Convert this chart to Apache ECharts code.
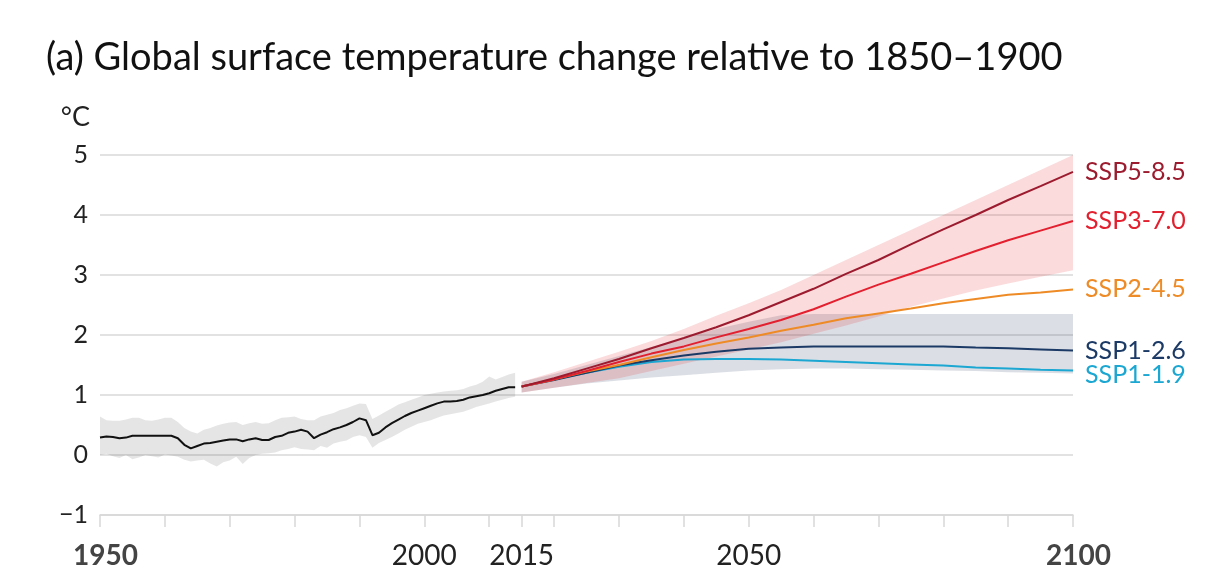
<!DOCTYPE html>
<html>
<head>
<meta charset="utf-8">
<script src="https://cdn.jsdelivr.net/npm/echarts@6/dist/echarts.min.js"></script>
<style>
  html, body { margin: 0; padding: 0; background: #fff; }
  #chart { width: 1216px; height: 581px; }
</style>
</head>
<body>
<div id="chart"></div>
<script>
// ---------- data ----------
const titleText = '(a) Global surface temperature change relative to 1850–1900';
const unitLabel = '°C';

const histYears = [];
for (let y = 1950; y <= 2014; y++) histYears.push(y);

const histMean = [0.29,0.31,0.30,0.28,0.29,0.32,0.32,0.32,0.32,0.32,
                  0.32,0.32,0.28,0.17,0.11,0.15,0.19,0.20,0.22,0.24,
                  0.26,0.26,0.23,0.26,0.28,0.25,0.25,0.30,0.32,0.37,
                  0.39,0.42,0.39,0.28,0.34,0.38,0.43,0.46,0.50,0.55,
                  0.61,0.58,0.33,0.37,0.46,0.53,0.59,0.65,0.70,0.74,
                  0.78,0.82,0.86,0.89,0.89,0.90,0.92,0.96,0.98,1.00,
                  1.03,1.07,1.10,1.13,1.13];
const histHigh = [0.64,0.58,0.57,0.57,0.59,0.62,0.62,0.58,0.57,0.59,
                  0.62,0.62,0.55,0.45,0.39,0.36,0.42,0.45,0.49,0.52,
                  0.54,0.55,0.50,0.53,0.55,0.52,0.53,0.58,0.62,0.63,
                  0.64,0.60,0.58,0.58,0.64,0.67,0.70,0.75,0.78,0.82,
                  0.86,0.85,0.60,0.66,0.72,0.78,0.84,0.88,0.92,0.96,
                  1.00,1.02,1.04,1.06,1.07,1.08,1.10,1.14,1.17,1.22,
                  1.31,1.26,1.30,1.34,1.37];
const histLow  = [0.00,0.02,-0.02,-0.05,0.00,-0.07,-0.04,0.00,-0.02,-0.04,
                  0.01,-0.01,-0.03,-0.08,-0.11,-0.09,-0.08,-0.14,-0.19,-0.12,
                  -0.09,-0.03,-0.15,-0.05,0.00,0.02,0.03,0.04,0.08,0.10,
                  0.13,0.10,0.09,0.08,0.15,0.12,0.19,0.22,0.24,0.30,
                  0.33,0.30,0.12,0.20,0.25,0.30,0.36,0.42,0.47,0.52,
                  0.55,0.58,0.62,0.66,0.68,0.70,0.72,0.76,0.80,0.83,
                  0.86,0.89,0.92,0.95,0.97];

const projYears = [2015,2020,2025,2030,2035,2040,2045,2050,2055,2060,2065,2070,2075,2080,2085,2090,2095,2100];
const ssp585 = [1.14,1.28,1.44,1.60,1.78,1.95,2.13,2.33,2.55,2.77,3.02,3.25,3.51,3.76,4.00,4.25,4.48,4.72];
const ssp370 = [1.14,1.26,1.40,1.55,1.69,1.81,1.96,2.10,2.25,2.43,2.64,2.84,3.02,3.21,3.40,3.58,3.74,3.90];
const ssp245 = [1.14,1.26,1.39,1.50,1.63,1.75,1.86,1.96,2.07,2.17,2.28,2.36,2.44,2.53,2.60,2.67,2.71,2.76];
const ssp126 = [1.14,1.25,1.37,1.49,1.58,1.66,1.72,1.77,1.79,1.81,1.81,1.81,1.81,1.81,1.79,1.78,1.76,1.74];
const ssp119 = [1.14,1.26,1.37,1.47,1.55,1.59,1.60,1.60,1.59,1.57,1.55,1.53,1.51,1.49,1.46,1.44,1.42,1.41];

const ssp370High = [1.22,1.38,1.55,1.72,1.90,2.10,2.32,2.53,2.75,3.00,3.25,3.50,3.75,4.00,4.25,4.50,4.75,5.00];
const ssp370Low  = [1.04,1.12,1.20,1.28,1.40,1.52,1.64,1.76,1.88,2.02,2.16,2.31,2.47,2.61,2.74,2.86,2.97,3.08];
const ssp126High = [1.22,1.35,1.50,1.65,1.80,1.95,2.10,2.22,2.33,2.35,2.35,2.35,2.35,2.35,2.35,2.35,2.35,2.35];
const ssp126Low  = [1.04,1.12,1.19,1.24,1.29,1.33,1.37,1.41,1.43,1.44,1.44,1.43,1.42,1.41,1.40,1.38,1.37,1.36];

const xTickYears  = [1950,1960,1970,1980,1990,2000,2010,2015,2020,2030,2040,2050,2060,2070,2080,2090,2100];
const xLabelYears = [1950,2000,2015,2050,2100];
const xBoldYears  = [1950,2100];
const yMin = -1, yMax = 5, yStep = 1;

const scenarioNames  = ['SSP1-1.9','SSP1-2.6','SSP2-4.5','SSP3-7.0','SSP5-8.5'];
const scenarioValues = [ssp119, ssp126, ssp245, ssp370, ssp585];
const scenarioColors = ['#1ba7d2','#1c3a66','#ee8b26','#e2202f','#9c1b2e'];

// ---------- helpers ----------
const FONT = 'Lato, "Noto Sans", sans-serif';
function pairs(xs, ys) { return xs.map((x, i) => [x, ys[i]]); }
function bandSeries(name, xs, lo, hi, fill) {
  return {
    type: 'custom',
    name: name,
    silent: true,
    z: 1,
    data: xs.map((x, i) => [x, lo[i], hi[i]]),
    encode: { x: 0, y: [1, 2] },
    renderItem: function (params, api) {
      if (params.dataIndex !== 0) return null;
      const pts = [];
      for (let i = 0; i < xs.length; i++) pts.push(api.coord([xs[i], hi[i]]));
      for (let i = xs.length - 1; i >= 0; i--) pts.push(api.coord([xs[i], lo[i]]));
      return { type: 'polygon', shape: { points: pts }, style: { fill: fill } };
    }
  };
}

const series = [];
series.push(bandSeries('hist band', histYears, histLow, histHigh, 'rgba(0,0,0,0.10)'));
series.push(bandSeries('SSP1-2.6 band', projYears, ssp126Low, ssp126High, 'rgba(29,51,84,0.16)'));
series.push(bandSeries('SSP3-7.0 band', projYears, ssp370Low, ssp370High, 'rgba(231,29,37,0.16)'));
series.push({
  type: 'line', name: 'historical', data: pairs(histYears, histMean),
  showSymbol: false, symbol: 'none', z: 3, silent: true,
  lineStyle: { color: '#111', width: 2 }
});
scenarioNames.forEach((nm, k) => {
  series.push({
    type: 'line', name: nm, data: pairs(projYears, scenarioValues[k]),
    symbol: 'none', z: 3, silent: true,
    lineStyle: { color: scenarioColors[k], width: 2 },
    endLabel: {
      show: true, formatter: nm, color: scenarioColors[k],
      fontSize: 25, fontFamily: FONT, distance: 12,
      offset: nm === 'SSP1-1.9' ? [0, 5] : [0, 0]
    }
  });
});

const chart = echarts.init(document.getElementById('chart'), null, { renderer: 'canvas' });
chart.setOption({
  animation: false,
  backgroundColor: '#fff',
  title: {
    text: titleText, left: 46, top: 39, padding: 0,
    textStyle: { fontSize: 38, fontWeight: 'normal', color: '#111', fontFamily: FONT }
  },
  grid: { left: 100, right: 143, top: 155, bottom: 66, containLabel: false },
  xAxis: {
    type: 'value', min: 1950, max: 2100,
    splitLine: { show: false },
    axisLine: { show: true, onZero: false, lineStyle: { color: '#d8d8d8', width: 1.5 } },
    axisTick: { show: true, customValues: xTickYears, length: 12, lineStyle: { color: '#d8d8d8', width: 1.5 } },
    axisLabel: {
      customValues: xLabelYears, margin: 27, fontSize: 28, fontFamily: FONT, color: '#222',
      formatter: function (v) { return xBoldYears.indexOf(v) >= 0 ? '{b|' + v + '}' : '{n|' + v + '}'; },
      rich: {
        b: { fontSize: 28, fontWeight: 'bold', color: '#444', fontFamily: FONT, padding: [0, 0, 0, 11] },
        n: { fontSize: 28, color: '#222', fontFamily: FONT }
      }
    }
  },
  yAxis: {
    type: 'value', min: yMin, max: yMax, interval: yStep,
    name: unitLabel, nameLocation: 'end', nameGap: 24,
    nameTextStyle: { fontSize: 27, color: '#222', fontFamily: FONT, align: 'right', padding: [0, 10, 0, 0] },
    axisLine: { show: false }, axisTick: { show: false },
    axisLabel: {
      fontSize: 25, color: '#222', fontFamily: FONT, margin: 12,
      formatter: function (v) { return v < 0 ? '\u2212' + Math.abs(v) : String(v); }
    },
    splitLine: { show: true, lineStyle: { color: '#d8d8d8', width: 1.5 } }
  },
  series: series
});
</script>
</body>
</html>
